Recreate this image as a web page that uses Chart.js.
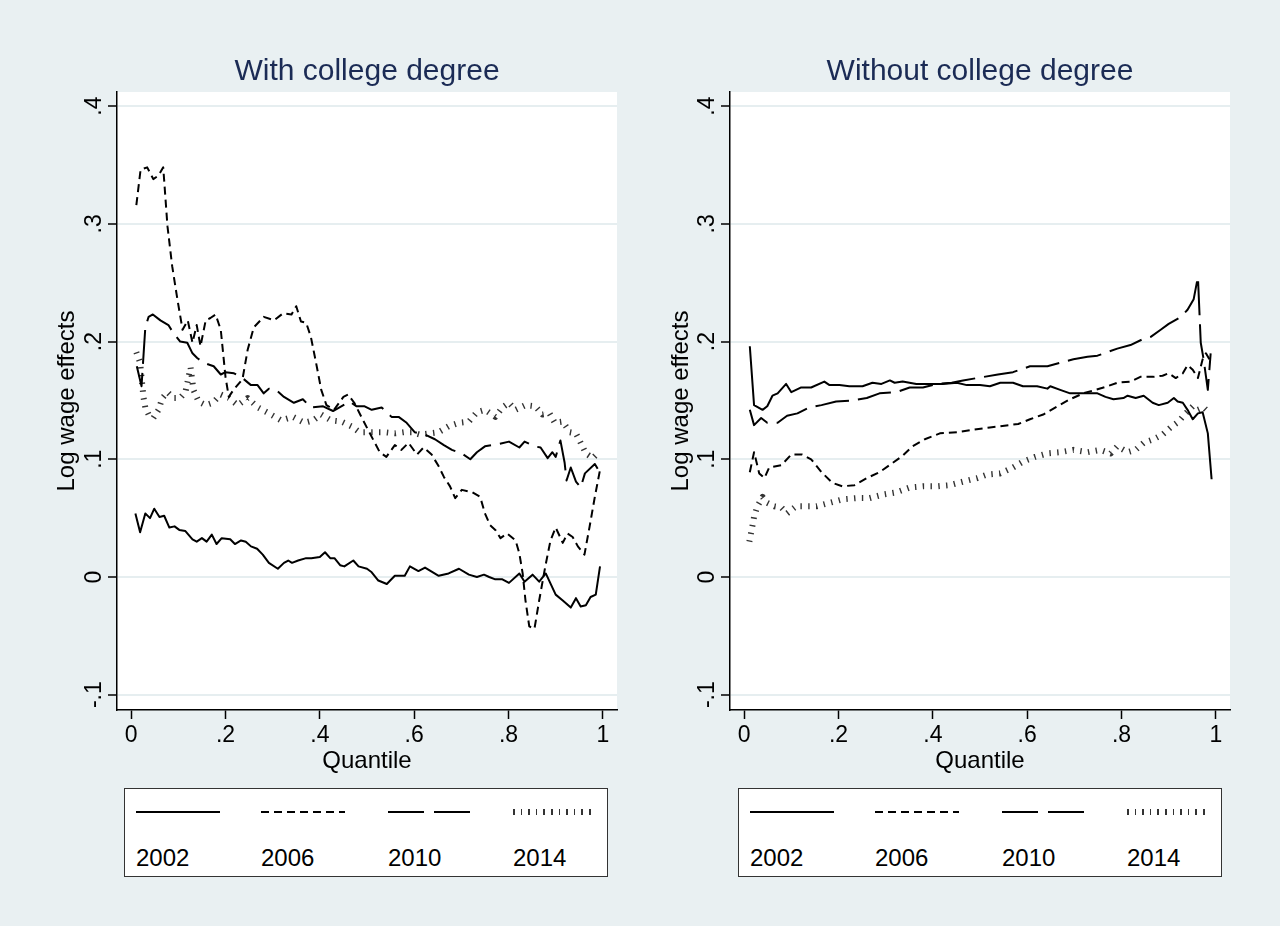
<!DOCTYPE html>
<html>
<head>
<meta charset="utf-8">
<title>Log wage effects by quantile</title>
<script src="https://cdn.jsdelivr.net/npm/chart.js@4.4.1/dist/chart.umd.min.js"></script>
<style>
body{margin:0;background:#e9f0f2;font-family:"Liberation Sans",Arial,sans-serif;}
#wrap{position:relative;width:1280px;height:926px;overflow:hidden;}
canvas{position:absolute;top:0;}
.ttl{position:absolute;top:52px;width:500px;text-align:center;font-size:30px;line-height:36px;color:#1b2b55;}
.legend{position:absolute;top:788px;width:482px;height:87px;background:#fff;border:1.5px solid #333;}
.smp{position:absolute;width:84px;}
.lbl{position:absolute;top:55px;font-size:24px;line-height:28px;color:#000;}
.s02{top:22px;height:2px;background:#000;}
.s06{top:22px;height:2px;background:repeating-linear-gradient(to right,#000 0 8px,transparent 8px 13px);}
.s10{top:22px;height:2px;background:repeating-linear-gradient(to right,#000 0 36px,transparent 36px 46px);}
.s14{top:20px;height:6px;background:repeating-linear-gradient(to right,#333 0 1.5px,transparent 1.5px 7.6px);}
</style>
</head>
<body>
<div id="wrap">
  <canvas id="left" width="640" height="790" style="left:0"></canvas>
  <canvas id="right" width="640" height="790" style="left:640px"></canvas>
  <div class="ttl" style="left:117px">With college degree</div>
  <div class="ttl" style="left:730px">Without college degree</div>
  <div class="legend" style="left:124px" id="legLeft"></div>
  <div class="legend" style="left:738px" id="legRight"></div>
</div>
<script>
var quantTicks=[0,0.2,0.4,0.6,0.8,1]
var effectTicks=[-0.1,0,0.1,0.2,0.3,0.4]
var years=['2002','2006','2010','2014']

// With college degree
var col02Q=[.009,.019,.03,.04,.049,.06,.07,.081,.092,.102,.115,.13,.139,.15,.16,.171,.181,.192,.21,.22,.233,.243,.254,.267,.279,.292,.311,.324,.333,.341,.354,.371,.382,.4,.411,.422,.431,.443,.452,.471,.482,.5,.51,.524,.542,.559,.58,.591,.609,.623,.652,.673,.695,.716,.733,.748,.759,.772,.787,.801,.823,.834,.851,.865,.879,.9,.915,.932,.943,.953,.964,.974,.985,.994]
var col02V=[.054,.038,.054,.05,.058,.051,.052,.042,.043,.04,.039,.032,.03,.033,.03,.036,.028,.033,.032,.028,.031,.03,.026,.024,.019,.012,.007,.012,.014,.012,.014,.016,.016,.017,.021,.016,.016,.01,.009,.014,.009,.007,.004,-.003,-.006,.001,.001,.009,.005,.008,.001,.003,.007,.002,0,.002,0,-.002,-.002,-.005,.003,-.004,.002,-.004,.003,-.015,-.02,-.026,-.018,-.025,-.024,-.017,-.015,.009]

var col06Q=[.011,.02,.034,.047,.058,.068,.077,.087,.098,.109,.12,.13,.139,.147,.158,.168,.179,.19,.2,.207,.217,.236,.247,.26,.281,.303,.322,.34,.35,.36,.371,.381,.392,.403,.414,.43,.45,.46,.473,.488,.51,.527,.541,.559,.573,.588,.606,.62,.637,.652,.663,.676,.687,.701,.723,.74,.75,.761,.772,.783,.797,.815,.823,.83,.836,.844,.855,.865,.878,.889,.9,.915,.925,.936,.947,.961,.972,.983,.994]
var col06V=[.316,.346,.348,.338,.341,.348,.298,.264,.236,.21,.218,.199,.214,.196,.218,.22,.223,.21,.17,.153,.159,.168,.193,.212,.221,.218,.224,.223,.23,.217,.216,.204,.182,.159,.146,.142,.153,.155,.148,.136,.119,.106,.102,.112,.108,.114,.104,.11,.104,.094,.085,.077,.067,.074,.072,.068,.054,.044,.04,.033,.037,.031,.02,.003,-.02,-.042,-.044,-.02,.009,.031,.042,.029,.037,.034,.026,.019,.043,.068,.091]

var col10Q=[.012,.022,.03,.037,.046,.062,.079,.09,.104,.119,.13,.14,.154,.175,.19,.2,.218,.236,.254,.268,.281,.292,.307,.324,.345,.364,.381,.407,.428,.45,.463,.478,.495,.51,.531,.552,.567,.584,.601,.623,.644,.663,.68,.701,.719,.733,.75,.78,.801,.823,.834,.855,.868,.883,.893,.9,.91,.919,.923,.932,.943,.953,.962,.983,.989]
var col10V=[.179,.162,.212,.221,.223,.218,.214,.207,.2,.199,.19,.186,.182,.179,.172,.174,.173,.169,.163,.163,.156,.16,.159,.153,.148,.151,.144,.145,.141,.146,.149,.145,.145,.142,.144,.136,.136,.131,.123,.121,.117,.112,.108,.105,.1,.106,.111,.113,.115,.11,.115,.111,.11,.101,.106,.102,.116,.097,.082,.093,.081,.076,.088,.096,.092]

var col14Q=[.011,.019,.026,.03,.037,.047,.058,.066,.077,.09,.104,.115,.126,.132,.143,.158,.173,.19,.207,.226,.247,.269,.292,.318,.343,.367,.386,.403,.424,.446,.467,.484,.499,.52,.537,.559,.578,.595,.612,.633,.652,.673,.695,.716,.733,.75,.772,.787,.801,.815,.836,.857,.872,.887,.898,.915,.93,.943,.953,.964,.979,.989]
var col14V=[.191,.182,.153,.144,.138,.135,.142,.152,.157,.152,.152,.157,.178,.159,.149,.146,.148,.155,.152,.146,.152,.144,.139,.133,.136,.131,.133,.138,.133,.132,.128,.123,.123,.123,.123,.122,.123,.123,.121,.122,.123,.128,.131,.132,.14,.142,.136,.144,.148,.142,.146,.145,.138,.139,.131,.132,.123,.122,.114,.105,.101,.105]

// Without college degree
var non02Q=[.012,.021,.039,.049,.06,.071,.089,.1,.121,.142,.17,.181,.202,.223,.251,.272,.291,.309,.319,.336,.365,.394,.421,.451,.472,.5,.521,.543,.57,.591,.621,.643,.649,.67,.691,.719,.749,.766,.783,.804,.813,.83,.847,.866,.879,.898,.911,.919,.93,.94,.951,.962,.972,.983,.991]
var non02V=[.196,.146,.142,.145,.154,.156,.164,.157,.161,.161,.166,.163,.163,.162,.162,.165,.164,.167,.165,.166,.164,.164,.164,.165,.163,.163,.162,.165,.165,.162,.162,.16,.162,.159,.156,.156,.156,.153,.151,.152,.154,.152,.154,.148,.146,.148,.152,.149,.148,.142,.134,.139,.14,.122,.083]

var non06Q=[.012,.021,.032,.043,.053,.079,.1,.123,.142,.164,.187,.208,.234,.26,.287,.315,.336,.357,.383,.415,.451,.485,.521,.543,.581,.606,.634,.664,.691,.719,.745,.77,.791,.819,.84,.868,.887,.9,.915,.93,.94,.951,.962,.972,.979,.989]
var non06V=[.089,.106,.088,.084,.093,.095,.104,.104,.1,.089,.08,.077,.078,.084,.089,.097,.103,.111,.117,.122,.123,.125,.127,.128,.13,.134,.138,.145,.151,.156,.159,.162,.165,.166,.17,.17,.171,.173,.169,.173,.18,.176,.169,.185,.19,.183]

var non10Q=[.012,.021,.036,.049,.071,.091,.113,.138,.164,.195,.23,.26,.287,.323,.351,.379,.408,.44,.464,.494,.538,.57,.606,.643,.67,.698,.728,.749,.77,.791,.819,.845,.862,.883,.9,.926,.94,.953,.962,.968,.974,.983,.989]
var non10V=[.142,.129,.135,.131,.131,.137,.139,.144,.146,.149,.15,.152,.156,.157,.161,.161,.164,.165,.167,.169,.172,.174,.179,.179,.182,.185,.187,.188,.191,.194,.197,.202,.204,.21,.215,.221,.227,.236,.255,.199,.185,.159,.19]

var non14Q=[.011,.015,.021,.028,.039,.049,.064,.079,.091,.11,.128,.153,.181,.209,.238,.266,.294,.323,.351,.379,.408,.436,.464,.494,.515,.543,.57,.591,.617,.643,.67,.698,.728,.755,.777,.791,.813,.83,.847,.868,.887,.904,.921,.936,.951,.962,.974,.985]
var non14V=[.03,.038,.051,.06,.068,.063,.06,.059,.054,.06,.06,.06,.063,.066,.067,.067,.07,.072,.076,.077,.077,.078,.081,.084,.087,.088,.093,.098,.102,.105,.106,.108,.106,.108,.105,.111,.106,.108,.114,.117,.121,.127,.132,.139,.145,.142,.144,.14]

var lineStyles=[
  {dash:[],width:2,color:'#000'},
  {dash:[8,5],width:2,color:'#000'},
  {dash:[34,9],width:2,color:'#000'},
  {dash:[1.4,6.4],width:6,color:'#333'}
]
var legendClass=['s02','s06','s10','s14']
var legendLeft=[11,136,263,388]

function pts(q,v){
  var out=[]
  for(var i=0;i<q.length;i++){ out.push({x:q[i],y:v[i]}) }
  return out
}

function fmt(v){
  if(Math.abs(v)<1e-9) return '0'
  var s=String(Math.round(v*10)/10)
  return s.replace('0.','.')
}

var plotBg={
  id:'plotBg',
  beforeDraw:function(chart){
    var a=chart.chartArea, ctx=chart.ctx
    ctx.save()
    ctx.fillStyle='#fff'
    ctx.fillRect(a.left,a.top,a.right-a.left,a.bottom-a.top)
    ctx.restore()
  }
}

// y labels are turned on their side, like the Stata output
var yLabels={
  id:'yLabels',
  afterDraw:function(chart){
    var sc=chart.scales.y, ctx=chart.ctx
    var cx=chart.chartArea.left-22
    ctx.save()
    ctx.font='23px "Liberation Sans", Arial, sans-serif'
    ctx.fillStyle='#000'
    ctx.textAlign='center'
    ctx.textBaseline='middle'
    effectTicks.forEach(function(v){
      var py=sc.getPixelForValue(v)
      ctx.save()
      ctx.translate(cx,py)
      ctx.rotate(-Math.PI/2)
      ctx.fillText(fmt(v),0,0)
      ctx.restore()
    })
    ctx.restore()
  }
}

function makeChart(id,qs,vs,axisWidth,yTitlePad,rightPad){
  var sets=[]
  for(var i=0;i<years.length;i++){
    sets.push({
      label:years[i],
      data:pts(qs[i],vs[i]),
      borderColor:lineStyles[i].color,
      borderWidth:lineStyles[i].width,
      borderDash:lineStyles[i].dash,
      borderCapStyle:'butt',
      borderJoinStyle:'round',
      pointRadius:0,
      fill:false,
      tension:0
    })
  }
  return new Chart(document.getElementById(id),{
    type:'line',
    data:{datasets:sets},
    plugins:[plotBg,yLabels],
    options:{
      responsive:false,
      animation:false,
      events:[],
      layout:{padding:{left:0,right:rightPad,top:92,bottom:0}},
      plugins:{
        legend:{display:false},
        tooltip:{enabled:false},
        title:{display:false}
      },
      scales:{
        x:{
          type:'linear',
          min:-0.03,max:1.03,
          afterBuildTicks:function(s){ s.ticks=quantTicks.map(function(v){return {value:v}}) },
          afterFit:function(s){ s.height=80 },
          grid:{drawOnChartArea:false,tickColor:'#000',tickLength:9,tickWidth:1.5},
          border:{color:'#000',width:1.5},
          ticks:{color:'#000',padding:3,maxRotation:0,autoSkip:false,
            font:{size:23,family:'"Liberation Sans", Arial, sans-serif'},
            callback:function(v){ return fmt(v) }},
          title:{display:true,text:'Quantile',color:'#000',
            font:{size:24,family:'"Liberation Sans", Arial, sans-serif'},
            padding:{top:0,bottom:14}}
        },
        y:{
          type:'linear',
          min:-0.113,max:0.412,
          afterBuildTicks:function(s){ s.ticks=effectTicks.map(function(v){return {value:v}}) },
          afterFit:function(s){ s.width=axisWidth },
          grid:{color:'#e6eef0',lineWidth:2,tickColor:'#000',tickLength:9,tickWidth:1.5},
          border:{color:'#000',width:1.5},
          ticks:{display:false},
          title:{display:true,text:'Log wage effects',color:'#000',
            font:{size:24,family:'"Liberation Sans", Arial, sans-serif'},
            padding:{top:yTitlePad,bottom:0}}
        }
      }
    }
  })
}

makeChart('left',[col02Q,col06Q,col10Q,col14Q],[col02V,col06V,col10V,col14V],117,53,23)
makeChart('right',[non02Q,non06Q,non10Q,non14Q],[non02V,non06V,non10V,non14V],90,27,50)

function buildLegend(id){
  var box=document.getElementById(id)
  for(var i=0;i<years.length;i++){
    var s=document.createElement('div')
    s.className='smp '+legendClass[i]
    s.style.left=legendLeft[i]+'px'
    box.appendChild(s)
    var l=document.createElement('div')
    l.className='lbl'
    l.style.left=legendLeft[i]+'px'
    l.textContent=years[i]
    box.appendChild(l)
  }
}
buildLegend('legLeft')
buildLegend('legRight')
</script>
</body>
</html>
